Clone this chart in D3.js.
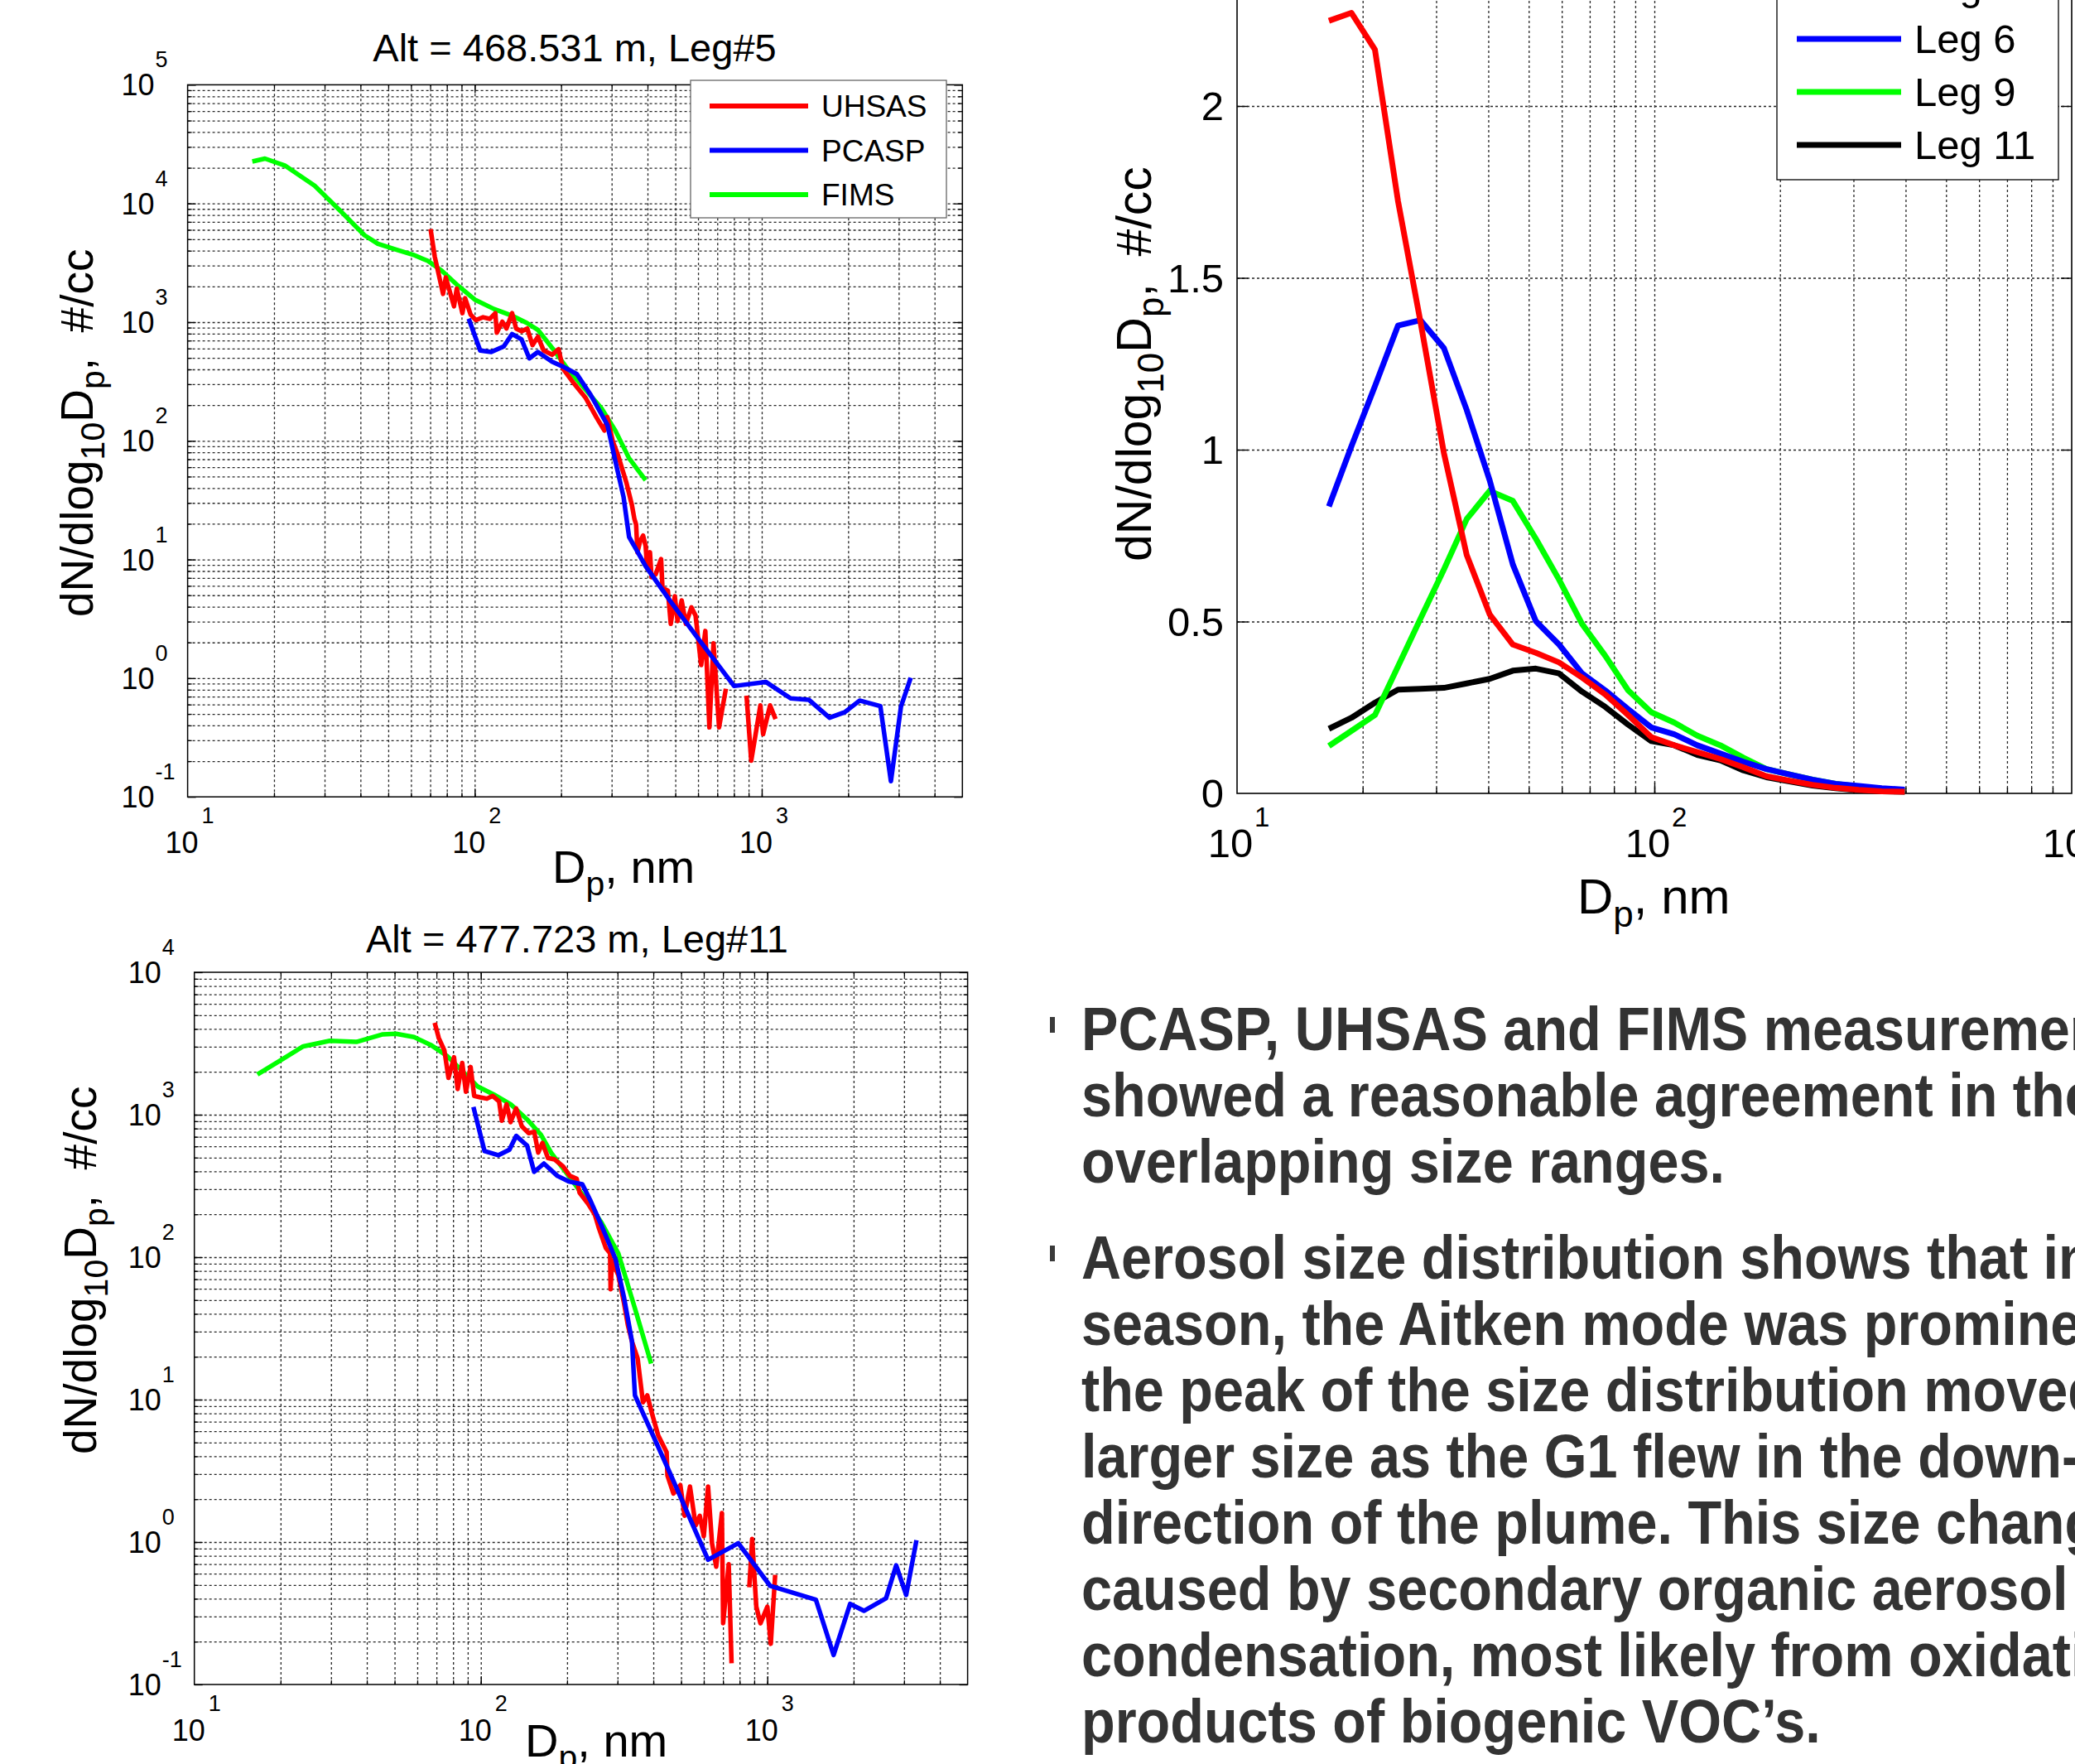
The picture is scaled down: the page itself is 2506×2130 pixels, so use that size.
<!DOCTYPE html>
<html><head><meta charset="utf-8">
<script src="https://cdn.jsdelivr.net/npm/d3@7/dist/d3.min.js"></script>
<style>html,body{margin:0;padding:0;background:#fff;overflow:hidden}svg{display:block}</style>
</head><body>
<svg id="chart" width="2506" height="2130" xmlns="http://www.w3.org/2000/svg"></svg>
<script>
// ================= DATA =================
// Panel A: Alt = 468.531 m, Leg#5  (diameter nm, dN/dlog10Dp #/cc)
const leg5UhsasDp = [70.2,72.6,77.6,79.3,84.7,86.6,90.6,92.6,96.8,101,107,113,118,119.4,124.8,129,135,139.4,145.7,152.4,159,166,174,186,196,203,222,243,265,283,289.5,303,316,338,353,360,365,369,377,386,394,399,408,413,427,446,451,471,482,498,509,526,544,569,588,615,636,657,679,710,750,800,885,919,989,1011,1069,1117];
const leg5UhsasN  = [6080,3560,1730,2380,1360,1920,1190,1590,1160,1040,1100,1067,1190,815,1010,884,1190,884,838,884,641,753,576,532,591,406,303,232,159,122,159,98.4,75.3,44,28.7,22,19.7,11.5,14.3,15.9,13,8.4,11.5,7.1,7.5,10.1,5.75,5.46,2.87,4.9,3.03,4.52,2.87,3.95,3.37,1.29,2.5,0.385,1.97,0.385,0.815,null,0.713,0.202,0.59,0.337,0.59,0.452];
const leg5PcaspDp = [95.3,104.5,114.2,126.3,135,145.7,155,166,186,203,227,253.5,290,309,330,345,394,482,588,801,1033,1261,1458,1722,1943,2193,2589,2818,3055,3304];
const leg5PcaspN  = [1070,577,561,625,795,714,495,561,465,422,365,244,136,67.6,33.7,15.5,8.8,4.4,2.31,0.859,0.93,0.676,0.658,0.464,0.516,0.648,0.581,0.1355,0.576,1.01];
const leg5FimsDp  = [16.8,18.6,21.8,27.7,34.3,41.3,46,53.8,61,68.7,76.7,87.5,100,116.8,136,152,166,186,212,242.5,277,309,345,394];
const leg5FimsN   = [22600,23900,20900,14100,8500,5400,4570,4060,3700,3280,2720,2030,1550,1290,1125,984,861,608,396,272,187,122,71.3,46.5];

// Panel B: Alt = 477.723 m, Leg#11
const leg11UhsasDp = [69.0,71.3,74.6,77.1,80.6,83,86.1,88.7,92.1,94.8,99.5,105,110,115.8,118.4,123,127,132.8,139,146.9,153.6,158.6,164,171.5,181,193.6,204.6,216,221,236.5,250,258.5,273,282.5,283.7,287,302,316,326,337,352.5,368,381,398,416,445,448,470,497,514,537,562,581,600,621,641,663,694,701,733,750,800,865,885,915,946,1000,1028,1065];
const leg11UhsasN  = [4415,3460,2830,1812,2530,1514,2310,1449,2163,1355,1325,1296,1355,1240,907,1185,887,1109,829,742,758,542,634,497,485,434,372,355,284,238,199,159,116,106.5,59.6,95,74.5,47.6,33.3,25.5,19.5,9.57,10.7,7.65,5.6,4.28,2.93,2.19,2.51,1.53,2.45,1.31,1.53,1.10,2.45,0.98,0.672,1.60,0.269,0.70,0.141,null,0.481,1.05,0.352,0.269,0.352,0.193,0.588];
const leg11PcaspDp = [94.2,103,115,125.8,132.9,145,153.5,166,185,202.6,226,241.5,264,295,316,337,345,450,621,792,1023,1477,1703,1945,2173,2596,2816,3051,3315];
const leg11PcaspN  = [1133,555,519,568,710,607,397,454,372,340,325,248.5,166,97.3,52.1,25.5,10.7,3.28,0.752,0.982,0.492,0.394,0.161,0.368,0.329,0.403,0.687,0.425,1.03];
const leg11FimsDp  = [16.6,19.4,24,29.7,36.8,45.5,50.6,58.5,66.8,76.2,87.1,97.3,111.1,127,145,162,177,202.5,231,264,302,345,393];
const leg11FimsN   = [1915,2320,3020,3300,3245,3665,3700,3505,3093,2588,1982,1583,1385,1185,927,725,531,372,260,174,106,43.7,17.9];

// Panel C: FIMS size distributions per leg (linear y)
const fimsDp   = [16.6,18.8,21.4,24.3,27.5,31.3,35.5,40.3,45.8,52.0,59.1,67.1,76.2,86.5,98.3,111.6,126.7,143.9,163.4,185.6,210.8,239.3,271.8,308.7,350.6,398.1];
const fimsLeg5  = [2.248,2.271,2.164,1.724,1.373,0.991,0.694,0.521,0.433,0.409,0.381,0.337,0.288,0.228,0.164,0.140,0.120,0.100,0.076,0.050,0.037,0.025,0.016,0.010,0.006,0.005];
const fimsLeg6  = [0.835,1.010,1.185,1.361,1.377,1.296,1.116,0.911,0.666,0.501,0.433,0.349,0.300,0.245,0.192,0.172,0.140,0.116,0.092,0.071,0.055,0.040,0.028,0.022,0.015,0.011];
const fimsLeg9  = [0.138,0.182,0.228,0.369,0.508,0.651,0.798,0.880,0.851,0.741,0.622,0.493,0.401,0.300,0.236,0.206,0.168,0.140,0.104,0.071,0.055,0.040,0.028,0.020,0.012,0.008];
const fimsLeg11 = [0.188,0.220,0.264,0.302,0.304,0.307,0.320,0.333,0.357,0.363,0.349,0.296,0.252,0.200,0.152,0.140,0.112,0.096,0.067,0.047,0.035,0.023,0.015,0.009,0.006,0.005];

const instNames = ["UHSAS","PCASP","FIMS"];
const legNames  = ["Leg 5","Leg 6","Leg 9","Leg 11"];
const xTickExp = [1,2,3];
const yTickExpA = [-1,0,1,2,3,4,5];
const yTickExpB = [-1,0,1,2,3,4];
const yTickC = [0,0.5,1,1.5,2,2.5];
const titleA = "Alt = 468.531 m, Leg#5";
const titleB = "Alt = 477.723 m, Leg#11";
const para1 = ["PCASP, UHSAS and FIMS measurements","showed a reasonable agreement in their","overlapping size ranges."];
const para2 = ["Aerosol size distribution shows that in","season, the Aitken mode was prominent","the peak of the size distribution moved to","larger size as the G1 flew in the down-wind","direction of the plume. This size change was","caused by secondary organic aerosol","condensation, most likely from oxidation","products of biogenic VOC\u2019s."];

// ================= DRAW =================
const FONT = '"Liberation Sans", Arial, Helvetica, sans-serif';
const svg = d3.select('#chart');
svg.append('rect').attr('width',2506).attr('height',2130).attr('fill','#fff');
const COLORS = ['#ff0000','#0000ff','#00ff00','#000000'];
const GRID = '#262626';

function zip(a,b){ return a.map((d,i)=>[d,b[i]]); }

function gridAndTicks(g, x, y, o, xt, yt, xMajor, yMajor, dash){
  const h = o.bottom-o.top, w = o.right-o.left;
  const gx = g.append('g').attr('transform',`translate(0,${o.bottom})`)
    .call(d3.axisBottom(x).tickValues(xt).tickSize(-h).tickFormat(''));
  gx.select('.domain').remove();
  gx.selectAll('line').attr('stroke',GRID).attr('stroke-width',1.3).attr('stroke-dasharray',dash);
  const gy = g.append('g').attr('transform',`translate(${o.left},0)`)
    .call(d3.axisLeft(y).tickValues(yt).tickSize(-w).tickFormat(''));
  gy.select('.domain').remove();
  gy.selectAll('line').attr('stroke',GRID).attr('stroke-width',1.3).attr('stroke-dasharray',dash);
  const mk = (axisFn, vals, len, tr) => {
    const t = g.append('g').attr('transform',tr).call(axisFn.tickValues(vals).tickSize(len).tickFormat(''));
    t.select('.domain').remove();
    t.selectAll('line').attr('stroke','#000').attr('stroke-width',1.3);
  };
  mk(d3.axisBottom(x), xt, -5, `translate(0,${o.bottom})`);
  mk(d3.axisBottom(x), xMajor, -10, `translate(0,${o.bottom})`);
  mk(d3.axisTop(x), xt, -5, `translate(0,${o.top})`);
  mk(d3.axisTop(x), xMajor, -10, `translate(0,${o.top})`);
  mk(d3.axisLeft(y), yt, -5, `translate(${o.left},0)`);
  mk(d3.axisLeft(y), yMajor, -10, `translate(${o.left},0)`);
  mk(d3.axisRight(y), yt, -5, `translate(${o.right},0)`);
  mk(d3.axisRight(y), yMajor, -10, `translate(${o.right},0)`);
}

function yLabel(g, x0, y0, size){
  const t = g.append('text').attr('transform',`translate(${x0},${y0}) rotate(-90)`)
    .attr('font-family',FONT).attr('font-size',size).attr('fill','#000');
  const sub = Math.round(size*0.74), dd = Math.round(size*0.26);
  t.append('tspan').text('dN/dlog');
  t.append('tspan').attr('font-size',sub).attr('dy',dd).text('10');
  t.append('tspan').attr('dy',-dd).text('D');
  t.append('tspan').attr('font-size',sub).attr('dy',dd).text('p');
  t.append('tspan').attr('dy',-dd).text(',\u00a0 #/cc');
}
function xLabel(g, x0, y0, size){
  const t = g.append('text').attr('x',x0).attr('y',y0)
    .attr('font-family',FONT).attr('font-size',size).attr('fill','#000');
  const sub = Math.round(size*0.74), dd = Math.round(size*0.26);
  t.append('tspan').text('D');
  t.append('tspan').attr('font-size',sub).attr('dy',dd).text('p');
  t.append('tspan').attr('dy',-dd).text(', nm');
}
function powLabel(g, cx, by, exp, base, sup, supDx, supDy, anchor){
  g.append('text').attr('x',cx).attr('y',by).attr('font-family',FONT)
    .attr('font-size',base).attr('fill','#000').attr('text-anchor',anchor).text('10');
  g.append('text').attr('x',cx+supDx).attr('y',by+supDy).attr('font-family',FONT)
    .attr('font-size',sup).attr('fill','#000').attr('text-anchor','start').text(String(exp));
}

function logPanel(o){
  const x = d3.scaleLog().domain(o.xDomain).range([o.left,o.right]);
  const y = d3.scaleLog().domain(o.yDomain).range([o.bottom,o.top]);
  const g = svg.append('g');
  g.append('rect').attr('x',o.left).attr('y',o.top).attr('width',o.right-o.left).attr('height',o.bottom-o.top).attr('fill','#fff');
  const xt = x.ticks().filter(v=>v>o.xDomain[0]*1.001 && v<o.xDomain[1]*0.999);
  const yt = y.ticks().filter(v=>v>o.yDomain[0]*1.001 && v<o.yDomain[1]*0.999);
  const xMajor = xTickExp.map(e=>Math.pow(10,e));
  const yMajor = o.yExp.map(e=>Math.pow(10,e));
  gridAndTicks(g,x,y,o,xt,yt,xMajor.filter(v=>v>o.xDomain[0]),yMajor,'3,3');
  g.append('rect').attr('x',o.left).attr('y',o.top).attr('width',o.right-o.left).attr('height',o.bottom-o.top)
    .attr('fill','none').attr('stroke','#000').attr('stroke-width',1.5);
  xTickExp.forEach(e=>{
    const px = x(Math.pow(10,e));
    powLabel(g, px-7, o.bottom+68, e, 36, 27, 24, -36, 'middle');
  });
  o.yExp.forEach(e=>{
    const py = y(Math.pow(10,e));
    powLabel(g, o.left-40, py+13, e, 36, 27, 1, -34, 'end');
  });
  const clipId = 'clip'+o.id;
  g.append('clipPath').attr('id',clipId).append('rect').attr('x',o.left).attr('y',o.top).attr('width',o.right-o.left).attr('height',o.bottom-o.top);
  const line = d3.line().defined(d=>d[1]!=null).x(d=>x(d[0])).y(d=>y(d[1]));
  const lg = g.append('g').attr('clip-path',`url(#${clipId})`);
  [o.fims,o.uhsas,o.pcasp].forEach((s,i)=>{
    const col = [COLORS[2],COLORS[0],COLORS[1]][i];
    lg.append('path').attr('d',line(s)).attr('fill','none').attr('stroke',col)
      .attr('stroke-width',5.5).attr('stroke-linejoin','round').attr('stroke-linecap','butt');
  });
  g.append('text').attr('x',o.titleX).attr('y',o.titleY).attr('text-anchor','middle')
    .attr('font-family',FONT).attr('font-size',47).attr('fill','#000').text(o.title);
  yLabel(g, o.ylx, o.yly, 55);
  xLabel(g, o.xlx, o.xly, 56);
  return {g,x,y};
}

// Panel A
const pA = logPanel({id:'A', left:226.6, right:1162.3, top:102.4, bottom:962.2,
  xDomain:[10,5000], yDomain:[0.1,1e5], yExp:yTickExpA,
  uhsas:zip(leg5UhsasDp,leg5UhsasN), pcasp:zip(leg5PcaspDp,leg5PcaspN), fims:zip(leg5FimsDp,leg5FimsN),
  title:titleA, titleX:694, titleY:74, ylx:112, yly:745, xlx:667, xly:1066});
(function(){
  const g = pA.g;
  g.append('rect').attr('x',834).attr('y',97).attr('width',309).attr('height',166)
    .attr('fill','#fff').attr('stroke','#666').attr('stroke-width',1.3);
  const cols = [COLORS[0],COLORS[1],COLORS[2]];
  instNames.forEach((n,i)=>{
    const yy = 128 + i*53.5;
    g.append('line').attr('x1',857).attr('x2',976).attr('y1',yy).attr('y2',yy)
      .attr('stroke',cols[i]).attr('stroke-width',6);
    g.append('text').attr('x',992).attr('y',yy+13).attr('font-family',FONT).attr('font-size',37)
      .attr('fill','#000').text(n);
  });
})();

// Panel B
logPanel({id:'B', left:234.7, right:1168.6, top:1174, bottom:2034,
  xDomain:[10,5000], yDomain:[0.1,1e4], yExp:yTickExpB,
  uhsas:zip(leg11UhsasDp,leg11UhsasN), pcasp:zip(leg11PcaspDp,leg11PcaspN), fims:zip(leg11FimsDp,leg11FimsN),
  title:titleB, titleX:697, titleY:1150, ylx:116, yly:1756, xlx:634, xly:2121});

// Panel C (log x, linear y; top of the axes lies above the page edge)
(function(){
  const o = {left:1494, right:2502, top:-79.5, bottom:958};
  const x = d3.scaleLog().domain([10,1000]).range([o.left,o.right]);
  const y = d3.scaleLinear().domain([0,2.5]).range([o.bottom,o.top]);
  const g = svg.append('g');
  g.append('rect').attr('x',o.left).attr('y',o.top).attr('width',o.right-o.left).attr('height',o.bottom-o.top).attr('fill','#fff');
  const xt = x.ticks().filter(v=>v>10.01 && v<999);
  const yt = yTickC.filter(v=>v>0 && v<2.5);
  const gx = g.append('g').attr('transform',`translate(0,${o.bottom})`)
    .call(d3.axisBottom(x).tickValues(xt).tickSize(-(o.bottom-o.top)).tickFormat(''));
  gx.select('.domain').remove();
  gx.selectAll('line').attr('stroke',GRID).attr('stroke-width',1.3).attr('stroke-dasharray','3,3');
  const gy = g.append('g').attr('transform',`translate(${o.left},0)`)
    .call(d3.axisLeft(y).tickValues(yt).tickSize(-(o.right-o.left)).tickFormat(''));
  gy.select('.domain').remove();
  gy.selectAll('line').attr('stroke',GRID).attr('stroke-width',1.3).attr('stroke-dasharray','3,3');
  const tk = (fn, vals, len, tr) => { const t=g.append('g').attr('transform',tr).call(fn.tickValues(vals).tickSize(len).tickFormat('')); t.select('.domain').remove(); t.selectAll('line').attr('stroke','#000').attr('stroke-width',1.4); };
  tk(d3.axisBottom(x), xt, -7, `translate(0,${o.bottom})`);
  tk(d3.axisBottom(x), [100], -13, `translate(0,${o.bottom})`);
  tk(d3.axisLeft(y), yt, -13, `translate(${o.left},0)`);
  tk(d3.axisRight(y), yt, -13, `translate(${o.right},0)`);
  g.append('rect').attr('x',o.left).attr('y',o.top).attr('width',o.right-o.left).attr('height',o.bottom-o.top)
    .attr('fill','none').attr('stroke','#000').attr('stroke-width',1.6);
  xTickExp.forEach(e=>{
    const px = x(Math.pow(10,e));
    powLabel(g, px-8, o.bottom+77, e, 49, 33, 29, -37, 'middle');
  });
  yTickC.forEach(v=>{
    g.append('text').attr('x',o.left-16).attr('y',y(v)+17).attr('text-anchor','end')
      .attr('font-family',FONT).attr('font-size',49).attr('fill','#000').text(String(v));
  });
  const line = d3.line().x(d=>x(d[0])).y(d=>y(d[1]));
  [fimsLeg11, fimsLeg9, fimsLeg6, fimsLeg5].forEach((s,i)=>{
    const col = [COLORS[3],COLORS[2],COLORS[1],COLORS[0]][i];
    g.append('path').attr('d',line(zip(fimsDp,s))).attr('fill','none').attr('stroke',col)
      .attr('stroke-width',7).attr('stroke-linejoin','round');
  });
  g.append('rect').attr('x',2146).attr('y',-59).attr('width',340).attr('height',276)
    .attr('fill','#fff').attr('stroke','#000').attr('stroke-width',1.3);
  legNames.forEach((n,i)=>{
    const yy = -17 + i*64;
    g.append('line').attr('x1',2170).attr('x2',2296).attr('y1',yy).attr('y2',yy)
      .attr('stroke',COLORS[i]).attr('stroke-width',7);
    g.append('text').attr('x',2312).attr('y',yy+17).attr('font-family',FONT).attr('font-size',49)
      .attr('fill','#000').text(n);
  });
  yLabel(g, 1390, 678, 59);
  xLabel(g, 1905, 1103, 60);
})();

// Text block
(function(){
  const g = svg.append('g');
  const put = (lines, y0, bulletY) => {
    g.append('rect').attr('x',1268).attr('y',bulletY).attr('width',6).attr('height',19).attr('fill','#3a3a3a');
    lines.forEach((s,i)=>{
      g.append('text').attr('transform',`translate(1306,${y0+i*80}) scale(0.9,1)`)
        .attr('font-family',FONT).attr('font-weight','bold').attr('font-size',74)
        .attr('fill','#333333').text(s);
    });
  };
  put(para1, 1268, 1228);
  put(para2, 1544, 1504);
})();
</script>
</body></html>
